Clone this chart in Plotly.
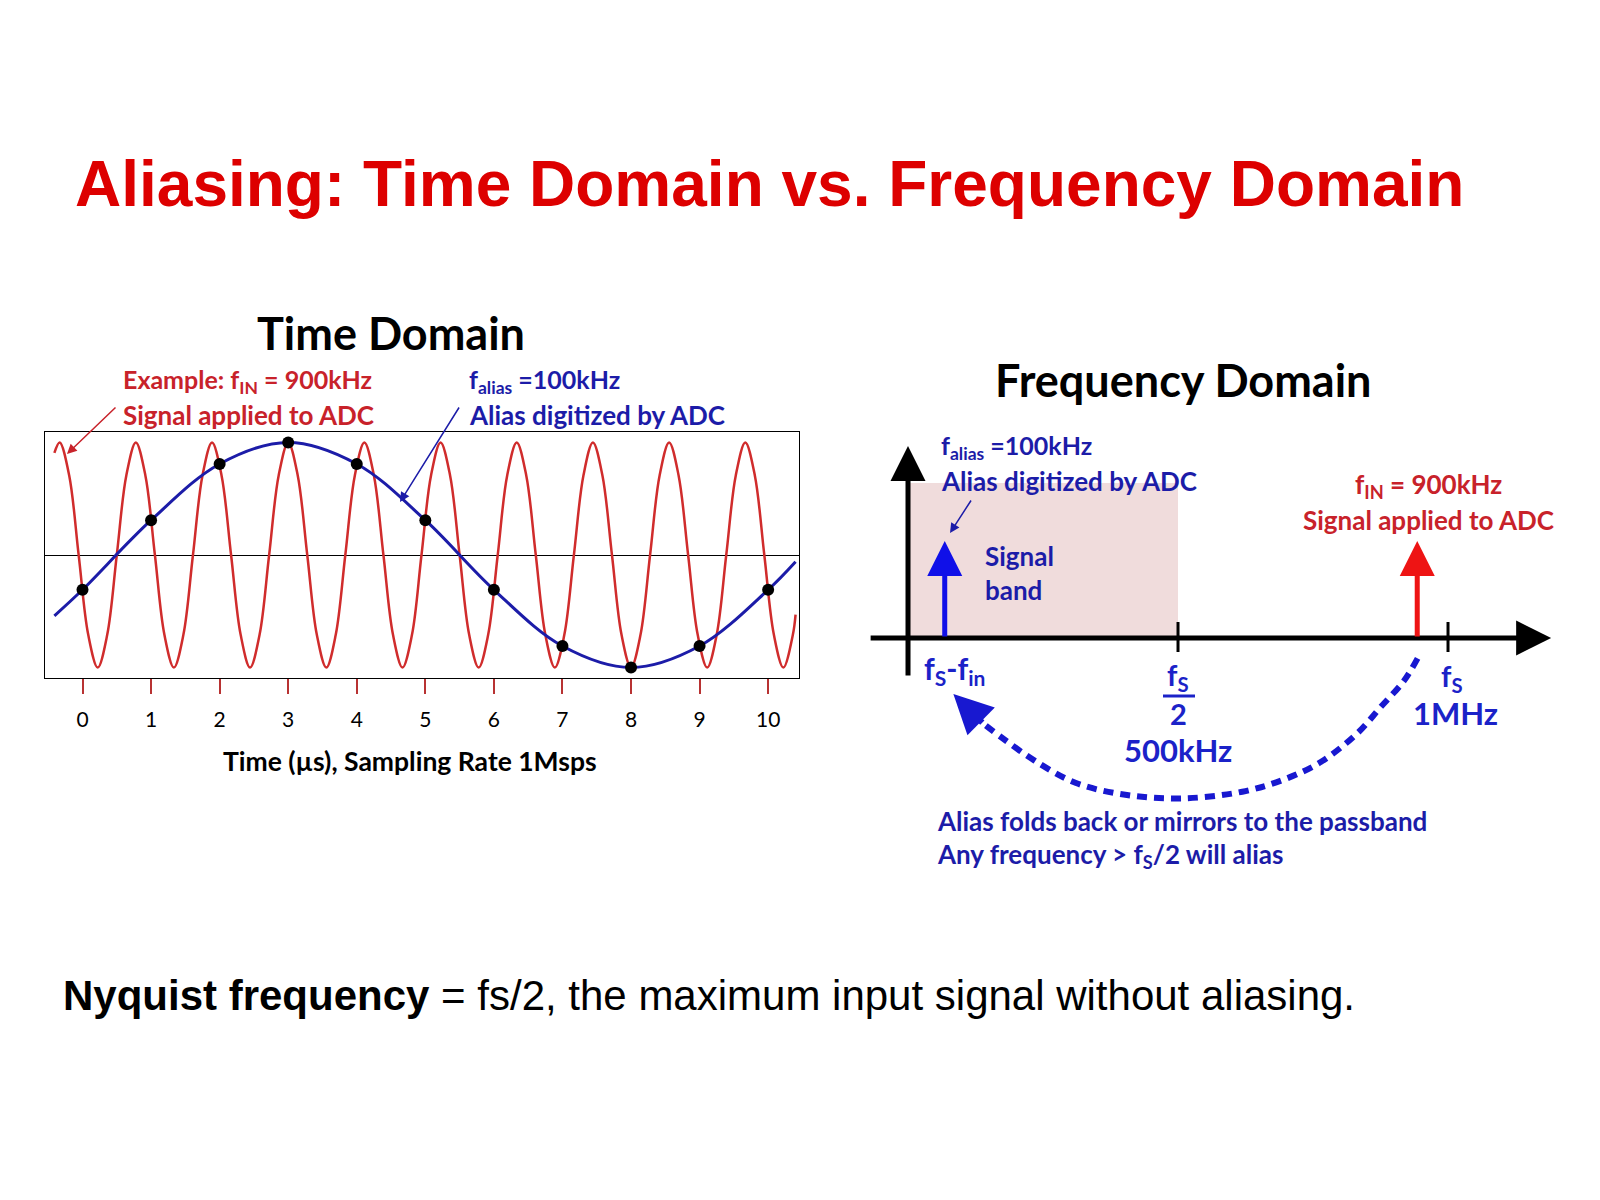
import plotly.graph_objects as go

W, H = 1600, 1200
FONT = "Lato, 'Open Sans', sans-serif"
ARIAL = "'Liberation Sans', Arial, sans-serif"

# ---------------- data: time domain ----------------
# 900 kHz input (normalised amplitude)
red_t = [-0.41, -0.333, -0.194, -0.056, 0.083, 0.222, 0.361, 0.500, 0.639, 0.778, 0.917,
         1.056, 1.194, 1.333, 1.472, 1.611, 1.750, 1.889, 2.028, 2.167, 2.306, 2.444,
         2.583, 2.722, 2.861, 3.000, 3.139, 3.278, 3.417, 3.556, 3.694, 3.833, 3.972,
         4.111, 4.250, 4.389, 4.528, 4.667, 4.806, 4.944, 5.083, 5.222, 5.361, 5.500,
         5.639, 5.778, 5.917, 6.056, 6.194, 6.333, 6.472, 6.611, 6.750, 6.889, 7.028,
         7.167, 7.306, 7.444, 7.583, 7.722, 7.861, 8.000, 8.139, 8.278, 8.417, 8.556,
         8.694, 8.833, 8.972, 9.111, 9.250, 9.389, 9.528, 9.667, 9.806, 9.944, 10.083,
         10.222, 10.361, 10.40]
red_y = [0.907, 1, 0.707, 0, -0.707, -1, -0.707, 0, 0.707, 1, 0.707,
         0, -0.707, -1, -0.707, 0, 0.707, 1, 0.707, 0, -0.707, -1,
         -0.707, 0, 0.707, 1, 0.707, 0, -0.707, -1, -0.707, 0, 0.707,
         1, 0.707, 0, -0.707, -1, -0.707, 0, 0.707, 1, 0.707, 0,
         -0.707, -1, -0.707, 0, 0.707, 1, 0.707, 0, -0.707, -1, -0.707,
         0, 0.707, 1, 0.707, 0, -0.707, -1, -0.707, 0, 0.707, 1,
         0.707, 0, -0.707, -1, -0.707, 0, 0.707, 1, 0.707, 0, -0.707,
         -1, -0.707, -0.53]

# 100 kHz alias trace
blue_t = [-0.41, 0, 1, 2, 3, 4, 5, 6, 7, 8, 9, 10, 10.4]
blue_y = [-0.54, -0.309, 0.309, 0.809, 1.0, 0.809, 0.309, -0.309, -0.809, -1.0, -0.809, -0.309, -0.06]

# ADC samples (1 Msps)
sample_t = [0, 1, 2, 3, 4, 5, 6, 7, 8, 9, 10]
sample_y = [-0.309, 0.309, 0.809, 1.0, 0.809, 0.309, -0.309, -0.809, -1.0, -0.809, -0.309]

time_ticks = [0, 1, 2, 3, 4, 5, 6, 7, 8, 9, 10]
time_tick_labels = ["0", "1", "2", "3", "4", "5", "6", "7", "8", "9", "10"]

# ---------------- data: frequency domain (kHz, schematic) ----------------
alias_freq = 68        # drawn position of alias impulse
input_freq = 943       # drawn position of input impulse
impulse_height = 97
nyquist_freq = 500
fs_freq = 1000
band_height = 155
axis_f = [-72, 1191]
vaxis_y = [-39, 192]
fold_f = [943.7, 918.1, 875.4, 832.6, 764.3, 695.9, 619.1, 508.0, 405.4, 311.1, 234.4, 174.6, 140.4]
fold_y = [-20.4, -43, -69, -95, -124, -141.6, -153.7, -160.4, -157, -145, -122.6, -100, -86]
fold_tip = (84, -56)

RED_WAVE = "#d02c2c"
NAVY = "#1c1ca8"
RED_TXT = "#c8222a"
BLUE_TXT = "#1b22c8"


def px(x):
    return x / W


def py(y):
    return 1 - y / H


fig = go.Figure()

fig.add_trace(go.Scatter(x=red_t, y=red_y, mode="lines",
                         line=dict(color=RED_WAVE, width=2.5, shape="spline", smoothing=1),
                         xaxis="x", yaxis="y", hoverinfo="skip"))
fig.add_trace(go.Scatter(x=blue_t, y=blue_y, mode="lines",
                         line=dict(color=NAVY, width=3, shape="spline", smoothing=1),
                         xaxis="x", yaxis="y", hoverinfo="skip"))
fig.add_trace(go.Scatter(x=sample_t, y=sample_y, mode="markers",
                         marker=dict(color="black", size=12),
                         xaxis="x", yaxis="y"))

# frequency domain fold-back arc
fig.add_trace(go.Scatter(x=fold_f, y=fold_y, mode="lines",
                         line=dict(color="#1818d0", width=6, dash="10px,7px", shape="spline", smoothing=1),
                         xaxis="x2", yaxis="y2", hoverinfo="skip"))

shapes = []
annotations = []

# signal band
shapes.append(dict(type="rect", xref="x2", yref="y2", x0=0, x1=nyquist_freq, y0=0, y1=band_height,
                   fillcolor="#f0dcdc", line=dict(width=0), layer="below"))
# ticks on freq axis
for f in [nyquist_freq, fs_freq]:
    shapes.append(dict(type="line", xref="x2", yref="y2", x0=f, x1=f, y0=16, y1=-14,
                       line=dict(color="black", width=3)))


def arrow(x, y, ax, ay, color, width, size, ref="2"):
    return dict(x=x, y=y, ax=ax, ay=ay, xref="x" + ref, yref="y" + ref,
                axref="x" + ref, ayref="y" + ref, text="", showarrow=True,
                arrowhead=2, arrowsize=size, arrowwidth=width, arrowcolor=color)


# axes with arrows
annotations.append(arrow(axis_f[1], 0, axis_f[0], 0, "black", 5, 1.4))
annotations.append(arrow(0, vaxis_y[1], 0, vaxis_y[0], "black", 5, 1.4))
# impulses
annotations.append(arrow(alias_freq, impulse_height, alias_freq, 0, "#1010e8", 5, 1.4))
annotations.append(arrow(input_freq, impulse_height, input_freq, 0, "#ee1414", 5, 1.4))
# fold arrow head
annotations.append(arrow(fold_tip[0], fold_tip[1], fold_f[-1], fold_y[-1], "#1818d0", 6, 1.3))


def text(t, x, y, size, color, xanchor="left", family=FONT):
    annotations.append(dict(text=t, x=px(x), y=py(y), xref="paper", yref="paper",
                            xanchor=xanchor, yanchor="middle", showarrow=False,
                            font=dict(family=family, size=size, color=color)))


# titles
text("<b>Aliasing: Time Domain vs. Frequency Domain</b>", 73, 184, 64, "#dd0000", family=ARIAL)
text("<b>Time Domain</b>", 391, 333, 45, "black", "center")
text("<b>Frequency Domain</b>", 1183, 380, 45, "black", "center")

# time domain labels
text("<b>Example: f<sub>IN</sub> = 900kHz</b>", 121, 381, 25, RED_TXT)
text("<b>Signal applied to ADC</b>", 121, 415, 26, RED_TXT)
text("<b>f<sub>alias</sub> =100kHz</b>", 467, 381, 25, NAVY)
text("<b>Alias digitized by ADC</b>", 467, 415, 26, NAVY)
text("<b>Time (µs), Sampling Rate 1Msps</b>", 410, 761, 26.5, "black", "center")

# pointer arrows (time domain)
annotations.append(dict(x=px(67), y=py(454), xref="paper", yref="paper", ax=50, ay=-48,
                        text="", showarrow=True, arrowhead=2, arrowsize=1.3, arrowwidth=1.5,
                        arrowcolor=RED_TXT))
annotations.append(dict(x=px(400), y=py(502), xref="paper", yref="paper", ax=60, ay=-96,
                        text="", showarrow=True, arrowhead=2, arrowsize=1.3, arrowwidth=1.5,
                        arrowcolor=NAVY))
annotations.append(dict(x=px(950), y=py(533), xref="paper", yref="paper", ax=22, ay=-34,
                        text="", showarrow=True, arrowhead=2, arrowsize=1.3, arrowwidth=1.5,
                        arrowcolor=NAVY))

# frequency domain labels
text("<b>f<sub>alias</sub> =100kHz</b>", 939, 447, 25, NAVY)
text("<b>Alias digitized by ADC</b>", 939, 481, 26, NAVY)
text("<b>Signal</b>", 983, 556, 26, NAVY)
text("<b>band</b>", 983, 590, 26, NAVY)
text("<b>f<sub>IN</sub> = 900kHz</b>", 1428, 485, 26, RED_TXT, "center")
text("<b>Signal applied to ADC</b>", 1428, 520, 26, RED_TXT, "center")
text("<b>f<sub>S</sub>-f<sub>in</sub></b>", 922, 670, 30, BLUE_TXT)
text("<b>f<sub>S</sub></b>", 1178, 676, 29, BLUE_TXT, "center")
text("<b>2</b>", 1178, 713, 29, BLUE_TXT, "center")
text("<b>500kHz</b>", 1178, 750, 31, BLUE_TXT, "center")
text("<b>f<sub>S</sub></b>", 1452, 677, 29, BLUE_TXT, "center")
text("<b>1MHz</b>", 1455, 713, 31, BLUE_TXT, "center")
text("<b>Alias folds back or mirrors to the passband</b>", 935, 821, 26, NAVY)
text("<b>Any frequency &gt; f<sub>S</sub>/2 will alias</b>", 935, 855, 26, NAVY)
shapes.append(dict(type="line", xref="paper", yref="paper", x0=px(1163), x1=px(1195),
                   y0=py(696), y1=py(696), line=dict(color=BLUE_TXT, width=3)))

# bottom statement
text("<b>Nyquist frequency</b> = fs/2, the maximum input signal without aliasing.",
     61, 995, 42, "black", family=ARIAL)

fig.update_layout(
    width=W, height=H, margin=dict(l=0, r=0, t=0, b=0),
    paper_bgcolor="white", plot_bgcolor="rgba(0,0,0,0)",
    showlegend=False, shapes=shapes, annotations=annotations,
    xaxis=dict(domain=[px(45), px(799)], range=[-0.547, 10.45],
               showline=True, mirror=True, linecolor="black", linewidth=1,
               showgrid=False, zeroline=False,
               tickmode="array", tickvals=time_ticks, ticktext=time_tick_labels,
               ticks="outside", ticklen=15, tickwidth=1.5, tickcolor="#b83232",
               ticklabelstandoff=8,
               tickfont=dict(family=FONT, size=21, color="black"), anchor="y"),
    yaxis=dict(domain=[py(678), py(432)], range=[-1.093, 1.093],
               showline=True, mirror=True, linecolor="black", linewidth=1,
               showgrid=False, zeroline=True, zerolinecolor="black", zerolinewidth=1,
               showticklabels=False, ticks="", anchor="x"),
    xaxis2=dict(domain=[px(860), px(1570)], range=[-88.9, 1225.9], visible=False, anchor="y2"),
    yaxis2=dict(domain=[py(820), py(420)], range=[-182, 218], visible=False, anchor="x2"),
)

fig.write_html("out.html")
